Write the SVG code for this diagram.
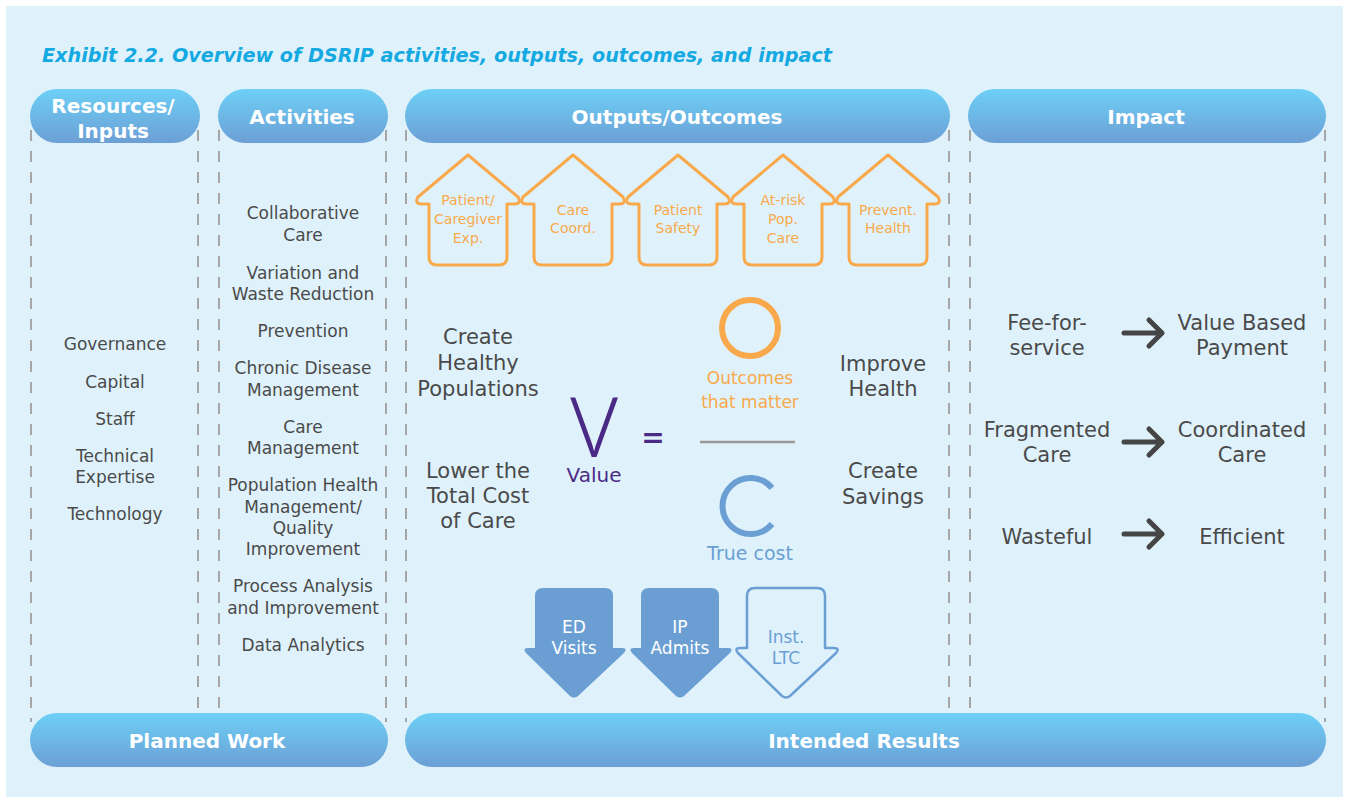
<svg xmlns="http://www.w3.org/2000/svg" width="1349" height="798" viewBox="0 0 1349 798">
<defs>
<linearGradient id="pill" x1="0" y1="0" x2="0" y2="1">
<stop offset="0" stop-color="#6dd0f6"/>
<stop offset="1" stop-color="#6c9fd5"/>
</linearGradient>
<style>
.hd{font-family:"DejaVu Sans","Noto Sans",sans-serif;font-weight:700;font-size:20px;fill:#fff;text-anchor:middle}
.t{font-family:"DejaVu Sans","Noto Sans",sans-serif;font-size:17px;fill:#4a4a4a;text-anchor:middle}
.tl{font-family:"DejaVu Sans","Noto Sans",sans-serif;font-size:21px;fill:#4a4a4a;text-anchor:middle}
.ho{font-family:"DejaVu Sans","Noto Sans",sans-serif;font-size:14px;fill:#f9a94b;text-anchor:middle}
.house{fill:none;stroke:#f9a94b;stroke-width:3;stroke-linejoin:round}
.dash{stroke:#a6a6a6;stroke-width:2;stroke-dasharray:11 10}
.arr{fill:none;stroke:#454545;stroke-width:5;stroke-linecap:round;stroke-linejoin:round}
.dn{fill:#6b9fd4}
.aw{font-family:"DejaVu Sans","Noto Sans",sans-serif;font-size:17px;fill:#fff;text-anchor:middle}
.ab{font-family:"DejaVu Sans","Noto Sans",sans-serif;font-size:17px;fill:#6b9fd4;text-anchor:middle}
.or{font-family:"DejaVu Sans","Noto Sans",sans-serif;font-size:17px;fill:#f9a94b;text-anchor:middle}
</style>
</defs>
<rect x="6" y="6" width="1337" height="791" fill="#dff2fc"/>
<text x="42" y="62" font-family="DejaVu Sans, Noto Sans, sans-serif" font-size="19" font-weight="700" font-style="italic" fill="#15a9e1" textLength="790" lengthAdjust="spacingAndGlyphs">Exhibit 2.2. Overview of DSRIP activities, outputs, outcomes, and impact</text>

<g id="dividers">
<line class="dash" x1="31" y1="130" x2="31" y2="722"/>
<line class="dash" x1="198" y1="130" x2="198" y2="722"/>
<line class="dash" x1="219" y1="130" x2="219" y2="722"/>
<line class="dash" x1="386" y1="130" x2="386" y2="722"/>
<line class="dash" x1="406" y1="130" x2="406" y2="722"/>
<line class="dash" x1="949" y1="130" x2="949" y2="722"/>
<line class="dash" x1="970" y1="130" x2="970" y2="722"/>
<line class="dash" x1="1325" y1="130" x2="1325" y2="722"/>
</g>

<g id="header-resources">
<rect x="30" y="89" width="170" height="54" rx="27" fill="url(#pill)"/>
<text class="hd" x="113" y="113">Resources/</text>
<text class="hd" x="113" y="138">Inputs</text>
</g>
<g id="header-activities">
<rect x="218" y="89" width="170" height="54" rx="27" fill="url(#pill)"/>
<text class="hd" x="302" y="124">Activities</text>
</g>
<g id="header-outputs">
<rect x="405" y="89" width="545" height="54" rx="27" fill="url(#pill)"/>
<text class="hd" x="677" y="124">Outputs/Outcomes</text>
</g>
<g id="header-impact">
<rect x="968" y="89" width="358" height="54" rx="27" fill="url(#pill)"/>
<text class="hd" x="1146" y="124">Impact</text>
</g>

<g id="resources">
<text class="t" x="115" y="350">Governance</text>
<text class="t" x="115" y="388">Capital</text>
<text class="t" x="115" y="425">Staff</text>
<text class="t" x="115" y="462">Technical</text>
<text class="t" x="115" y="483">Expertise</text>
<text class="t" x="115" y="520">Technology</text>
</g>

<g id="activities">
<text class="t" x="303" y="219">Collaborative</text>
<text class="t" x="303" y="241">Care</text>
<text class="t" x="303" y="279">Variation and</text>
<text class="t" x="303" y="300">Waste Reduction</text>
<text class="t" x="303" y="337">Prevention</text>
<text class="t" x="303" y="374">Chronic Disease</text>
<text class="t" x="303" y="396">Management</text>
<text class="t" x="303" y="433">Care</text>
<text class="t" x="303" y="454">Management</text>
<text class="t" x="303" y="491">Population Health</text>
<text class="t" x="303" y="513">Management/</text>
<text class="t" x="303" y="534">Quality</text>
<text class="t" x="303" y="555">Improvement</text>
<text class="t" x="303" y="592">Process Analysis</text>
<text class="t" x="303" y="614">and Improvement</text>
<text class="t" x="303" y="651">Data Analytics</text>
</g>

<g id="house-1">
<path class="house" d="M468,155 L518,197 Q522,204 514,204 L507,204 L507,257 Q507,265 499,265 L437,265 Q429,265 429,257 L429,204 L422,204 Q414,204 418,197 Z"/>
<text class="ho" x="468" y="205">Patient/</text>
<text class="ho" x="468" y="224">Caregiver</text>
<text class="ho" x="468" y="243">Exp.</text>
</g>
<g id="house-2">
<path class="house" d="M573,155 L623,197 Q627,204 619,204 L612,204 L612,257 Q612,265 604,265 L542,265 Q534,265 534,257 L534,204 L527,204 Q519,204 523,197 Z"/>
<text class="ho" x="573" y="215">Care</text>
<text class="ho" x="573" y="233">Coord.</text>
</g>
<g id="house-3">
<path class="house" d="M678,155 L728,197 Q732,204 724,204 L717,204 L717,257 Q717,265 709,265 L647,265 Q639,265 639,257 L639,204 L632,204 Q624,204 628,197 Z"/>
<text class="ho" x="678" y="215">Patient</text>
<text class="ho" x="678" y="233">Safety</text>
</g>
<g id="house-4">
<path class="house" d="M783,155 L833,197 Q837,204 829,204 L822,204 L822,257 Q822,265 814,265 L752,265 Q744,265 744,257 L744,204 L737,204 Q729,204 733,197 Z"/>
<text class="ho" x="783" y="205">At-risk</text>
<text class="ho" x="783" y="224">Pop.</text>
<text class="ho" x="783" y="243">Care</text>
</g>
<g id="house-5">
<path class="house" d="M888,155 L938,197 Q942,204 934,204 L927,204 L927,257 Q927,265 919,265 L857,265 Q849,265 849,257 L849,204 L842,204 Q834,204 838,197 Z"/>
<text class="ho" x="888" y="215">Prevent.</text>
<text class="ho" x="888" y="233">Health</text>
</g>

<g id="outcome-left">
<text class="tl" x="478" y="344">Create</text>
<text class="tl" x="478" y="370">Healthy</text>
<text class="tl" x="478" y="396">Populations</text>
<text class="tl" x="478" y="478">Lower the</text>
<text class="tl" x="478" y="503">Total Cost</text>
<text class="tl" x="478" y="528">of Care</text>
</g>
<g id="outcome-right">
<text class="tl" x="883" y="371">Improve</text>
<text class="tl" x="883" y="396">Health</text>
<text class="tl" x="883" y="478">Create</text>
<text class="tl" x="883" y="504">Savings</text>
</g>

<g id="value-equation">
<text x="594" y="457" font-family="Noto Sans, DejaVu Sans, sans-serif" font-size="82" font-weight="300" fill="#4b2a85" text-anchor="middle">V</text>
<text x="594" y="482" font-family="DejaVu Sans, Noto Sans, sans-serif" font-size="20" fill="#4b2a85" text-anchor="middle">Value</text>
<text x="653" y="447" font-family="DejaVu Sans, Noto Sans, sans-serif" font-size="28" font-weight="700" fill="#4b2a85" text-anchor="middle">=</text>
<circle cx="750" cy="328" r="28" fill="none" stroke="#f9a94b" stroke-width="6"/>
<text class="or" x="750" y="384">Outcomes</text>
<text class="or" x="750" y="408">that matter</text>
<line x1="700" y1="442" x2="795" y2="442" stroke="#999" stroke-width="2.5"/>
<path d="M772,488 A28,28 0 1 0 772,524" fill="none" stroke="#6b9fd4" stroke-width="6"/>
<text x="750" y="560" font-family="DejaVu Sans, Noto Sans, sans-serif" font-size="19" fill="#6b9fd4" text-anchor="middle">True cost</text>
</g>

<g id="arrow-ed">
<path class="dn" d="M543,588 L605,588 Q613,588 613,596 L613,648 L622,648 Q628,648 624,653 L578,696 Q574,699 570,696 L526,653 Q522,648 528,648 L535,648 L535,596 Q535,588 543,588 Z"/>
<text class="aw" x="574" y="633">ED</text>
<text class="aw" x="574" y="654">Visits</text>
</g>
<g id="arrow-ip">
<path class="dn" d="M649,588 L711,588 Q719,588 719,596 L719,648 L728,648 Q734,648 730,653 L684,696 Q680,699 676,696 L632,653 Q628,648 634,648 L641,648 L641,596 Q641,588 649,588 Z"/>
<text class="aw" x="680" y="633">IP</text>
<text class="aw" x="680" y="654">Admits</text>
</g>
<g id="arrow-ltc">
<path d="M755,588 L817,588 Q825,588 825,596 L825,648 L834,648 Q840,648 836,653 L790,696 Q786,699 782,696 L738,653 Q734,648 740,648 L747,648 L747,596 Q747,588 755,588 Z" fill="none" stroke="#6b9fd4" stroke-width="2.5" stroke-linejoin="round"/>
<text class="ab" x="786" y="643">Inst.</text>
<text class="ab" x="786" y="664">LTC</text>
</g>

<g id="impact-1">
<text class="tl" x="1047" y="330">Fee-for-</text>
<text class="tl" x="1047" y="355">service</text>
<text class="tl" x="1242" y="330">Value Based</text>
<text class="tl" x="1242" y="355">Payment</text>
</g>
<g id="impact-2">
<text class="tl" x="1047" y="437">Fragmented</text>
<text class="tl" x="1047" y="462">Care</text>
<text class="tl" x="1242" y="437">Coordinated</text>
<text class="tl" x="1242" y="462">Care</text>
</g>
<g id="impact-3">
<text class="tl" x="1047" y="544">Wasteful</text>
<text class="tl" x="1242" y="544">Efficient</text>
</g>
<g id="connectors">
<path class="arr" d="M1124,333 L1162,333 M1149,320 L1162,333 L1149,346"/>
<path class="arr" d="M1124,442 L1162,442 M1149,429 L1162,442 L1149,455"/>
<path class="arr" d="M1124,534 L1162,534 M1149,521 L1162,534 L1149,547"/>
</g>

<g id="footer-planned">
<rect x="30" y="713" width="358" height="54" rx="27" fill="url(#pill)"/>
<text class="hd" x="207" y="748">Planned Work</text>
</g>
<g id="footer-intended">
<rect x="405" y="713" width="921" height="54" rx="27" fill="url(#pill)"/>
<text class="hd" x="864" y="748">Intended Results</text>
</g>
</svg>
